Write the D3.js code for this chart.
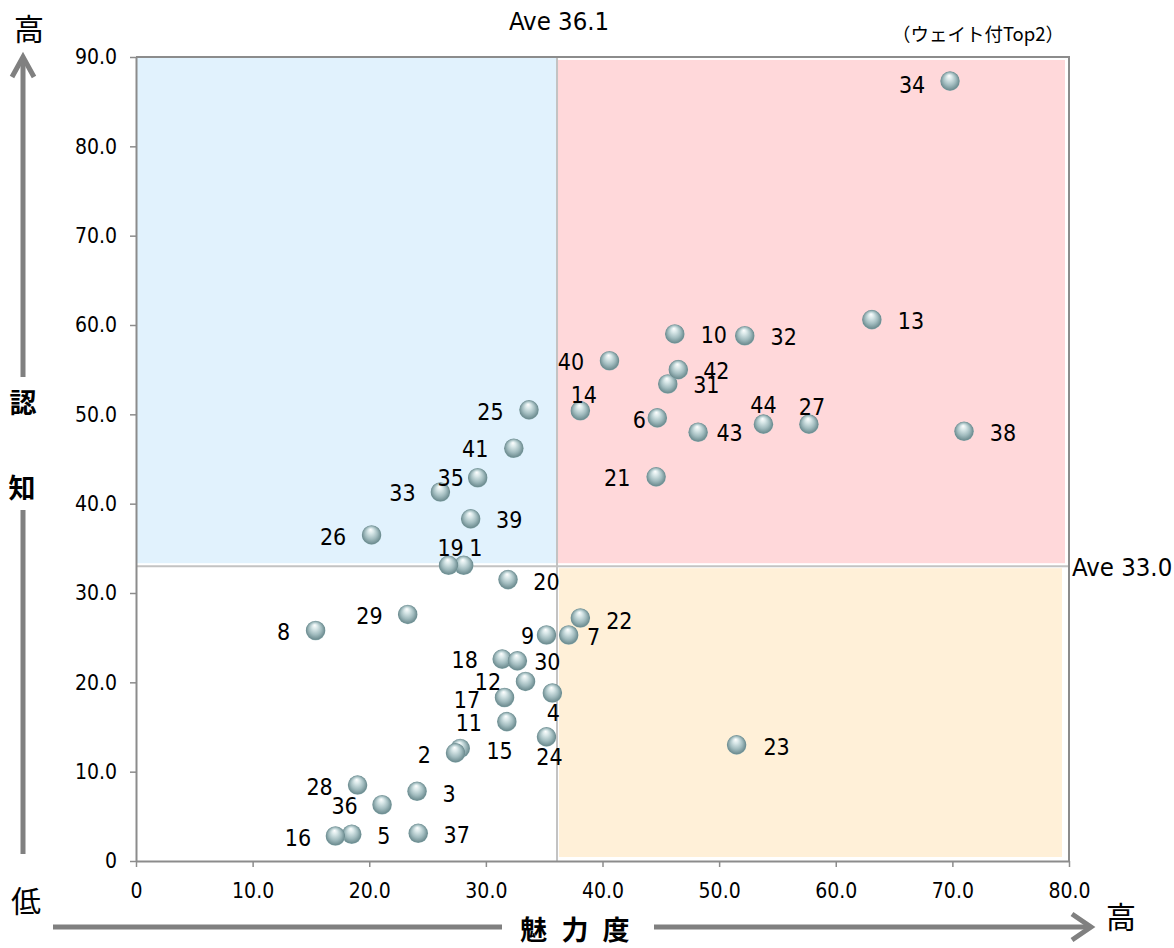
<!DOCTYPE html>
<html>
<head>
<meta charset="utf-8">
<script src="https://cdn.jsdelivr.net/npm/d3@7"></script>
<style>
  html, body { margin: 0; padding: 0; background: #ffffff; }
  svg { display: block; }
</style>
</head>
<body>
<script>
// ---------------- DATA ----------------
const ids = [1,2,3,4,5,6,7,8,9,10,11,12,13,14,15,16,17,18,19,20,21,22,
             23,24,25,26,27,28,29,30,31,32,33,34,35,36,37,38,39,40,41,42,43,44];
// 魅力度 (x)
const attraction = [28.1,27.8,24.1,35.7,18.5,44.7,37.1,15.4,35.2,46.2,31.8,33.4,63.1,38.1,27.4,17.1,31.6,31.4,26.8,31.9,44.6,38.1,
                    51.5,35.2,33.7,20.2,57.7,19.0,23.3,32.7,45.6,52.2,26.1,69.8,29.3,21.1,24.2,71.0,28.7,40.6,32.4,46.5,48.2,53.8];
// 認知 (y)
const awareness  = [33.1,12.6,7.8,18.8,3.0,49.6,25.3,25.8,25.3,59.0,15.6,20.1,60.6,50.4,12.1,2.8,18.3,22.6,33.1,31.5,43.0,27.2,
                    13.0,13.9,50.5,36.5,48.9,8.5,27.6,22.4,53.4,58.8,41.3,87.3,42.9,6.3,3.1,48.1,38.3,56.0,46.2,55.0,48.0,48.9];
const aveX = 36.1, aveY = 33.0;
const xTicks = [0,10,20,30,40,50,60,70,80];
const yTicks = [0,10,20,30,40,50,60,70,80,90];
const xTickLabels = ["0","10.0","20.0","30.0","40.0","50.0","60.0","70.0","80.0"];
const yTickLabels = ["0","10.0","20.0","30.0","40.0","50.0","60.0","70.0","80.0","90.0"];

// label placement (layout only, pixel offsets of each data label from its marker)
const labelDx = [12,-36,32,1,32,-18,25,-32,-19,39,-38,-37.5,39,3.5,44,-37.5,-37.5,-37.5,2,38.5,-39,39,
                 40,3,-38.5,-38.5,3,-38,-38.3,30,38.5,39,-38,-38,-27,-37.5,38.5,39,38.5,-38.5,-38.7,38,31.5,0];
const labelDy = [-17,7,3,20,2,2,2,1,1,1.5,1.5,1,1,-16,-2,2,2,1,-17,2,1,3,
                 2,20,2,2,-17,2,2,1,1.5,1.5,1,3.5,0,1,2,2,1,1.5,1,1.5,1,-19];

// ---------------- LAYOUT ----------------
const W = 1174, H = 948;
const LATIN = "'DejaVu Sans Condensed','DejaVu Sans',sans-serif";
const CJK = "'Noto Sans CJK JP','Noto Sans CJK SC',sans-serif";
const GRAY = "#8c8c8c";
const ARROW = "#808080";

const svg = d3.select("body").append("svg").attr("width", W).attr("height", H);

const x = d3.scaleLinear().domain([0, 80]).range([136, 1069]);
const y = d3.scaleLinear().domain([0, 90]).range([861, 57]);

// gradient for sphere markers
const defs = svg.append("defs");
const grad = defs.append("radialGradient").attr("id", "ball")
  .attr("cx", "50%").attr("cy", "52%").attr("r", "55%")
  .attr("fx", "45%").attr("fy", "22%");
[["0%", "#ffffff"], ["25%", "#d8e7e8"], ["58%", "#a2bcbf"], ["86%", "#6f8e92"], ["100%", "#b6dadb"]]
  .forEach(([o, c]) => grad.append("stop").attr("offset", o).attr("stop-color", c));

// quadrant fills
const q = svg.append("g");
q.append("rect").attr("x", x(0) + 1).attr("y", y(90) + 1)
  .attr("width", x(aveX) - x(0) - 2).attr("height", y(aveY) - y(90) - 4).attr("fill", "#e1f2fd");
q.append("rect").attr("x", x(aveX) + 1).attr("y", y(90) + 3)
  .attr("width", x(80) - x(aveX) - 5).attr("height", y(aveY) - y(90) - 6).attr("fill", "#ffd8da");
q.append("rect").attr("x", x(aveX) + 2).attr("y", y(aveY) + 2)
  .attr("width", x(80) - x(aveX) - 9).attr("height", y(0) - y(aveY) - 6).attr("fill", "#fff0d8");

// average lines
svg.append("line").attr("x1", x(aveX)).attr("x2", x(aveX)).attr("y1", y(90)).attr("y2", y(0))
  .attr("stroke", "#c3c3c3").attr("stroke-width", 2);
svg.append("line").attr("x1", x(0)).attr("x2", x(80)).attr("y1", y(aveY)).attr("y2", y(aveY))
  .attr("stroke", "#c3c3c3").attr("stroke-width", 2);

// top/right frame
svg.append("path").attr("d", `M${x(0)},${y(90)}H${x(80)}V${y(0)}`)
  .attr("fill", "none").attr("stroke", GRAY).attr("stroke-width", 2);

// axes
const xAxis = d3.axisBottom(x).tickValues(xTicks).tickFormat((d, i) => xTickLabels[i])
  .tickSizeInner(6).tickSizeOuter(0).tickPadding(16);
const yAxis = d3.axisLeft(y).tickValues(yTicks).tickFormat((d, i) => yTickLabels[i])
  .tickSizeInner(6).tickSizeOuter(0).tickPadding(13);

const gx = svg.append("g").attr("transform", `translate(0,${y(0)})`).call(xAxis);
const gy = svg.append("g").attr("transform", `translate(${x(0)},0)`).call(yAxis);
[gx, gy].forEach(g => {
  g.select(".domain").attr("stroke", GRAY).attr("stroke-width", 2);
  g.selectAll(".tick line").attr("stroke", GRAY).attr("stroke-width", 1.5);
  g.selectAll(".tick text").attr("fill", "#000").style("font-family", LATIN)
    .style("font-stretch", "condensed").style("font-size", "21px");
});

// points
const pts = ids.map((id, i) => ({ id, x: attraction[i], y: awareness[i], dx: labelDx[i], dy: labelDy[i] }));
const gp = svg.append("g");
gp.selectAll("circle").data(pts).join("circle")
  .attr("cx", d => x(d.x)).attr("cy", d => y(d.y)).attr("r", 9.8)
  .attr("fill", "url(#ball)");
svg.append("g").selectAll("text").data(pts).join("text")
  .attr("x", d => x(d.x) + d.dx).attr("y", d => y(d.y) + d.dy)
  .attr("text-anchor", "middle").attr("dominant-baseline", "central")
  .style("font-family", LATIN).style("font-stretch", "condensed").style("font-size", "23px")
  .attr("fill", "#000").text(d => d.id);

// ave labels
svg.append("text").attr("x", x(aveX) + 2).attr("y", 21).attr("text-anchor", "middle")
  .attr("dominant-baseline", "central")
  .style("font-family", LATIN).style("font-stretch", "condensed").style("font-size", "25.5px")
  .text("Ave " + aveX.toFixed(1));
svg.append("text").attr("x", x(80) + 3).attr("y", y(aveY) + 1).attr("text-anchor", "start")
  .attr("dominant-baseline", "central")
  .style("font-family", LATIN).style("font-stretch", "condensed").style("font-size", "25.5px")
  .text("Ave " + aveY.toFixed(1));

// note
svg.append("text").attr("x", 978).attr("y", 33).attr("text-anchor", "middle")
  .attr("dominant-baseline", "central").style("font-family", CJK).style("font-size", "18.5px")
  .text("（ウェイト付Top2）");

// arrows
const arrows = svg.append("g").attr("fill", "none").attr("stroke", ARROW).attr("stroke-width", 5);
arrows.append("path").attr("d", "M23,58V377");
arrows.append("path").attr("d", "M23,510V854");
arrows.append("path").attr("d", "M12,77L23,57L34,77").attr("stroke-linejoin", "miter");
arrows.append("path").attr("d", "M53,927H502");
arrows.append("path").attr("d", "M654,927H1090");
arrows.append("path").attr("d", "M1072,914L1091,927L1072,940").attr("stroke-linejoin", "miter");

// axis captions
function cjk(txt, cx, cy, size, weight) {
  return svg.append("text").attr("x", cx).attr("y", cy).attr("text-anchor", "middle")
    .attr("dominant-baseline", "central").style("font-family", CJK)
    .style("font-size", size + "px").style("font-weight", weight).attr("fill", "#000").text(txt);
}
cjk("高", 29, 27, 30, 400);
cjk("低", 26, 899, 30, 400);
cjk("高", 1121, 915, 30, 400);
cjk("認", 23, 401, 27, 700);
cjk("知", 22, 486, 27, 700);
cjk("魅 力 度", 577, 928, 27, 700).style("letter-spacing", "4px");
</script>
</body>
</html>
